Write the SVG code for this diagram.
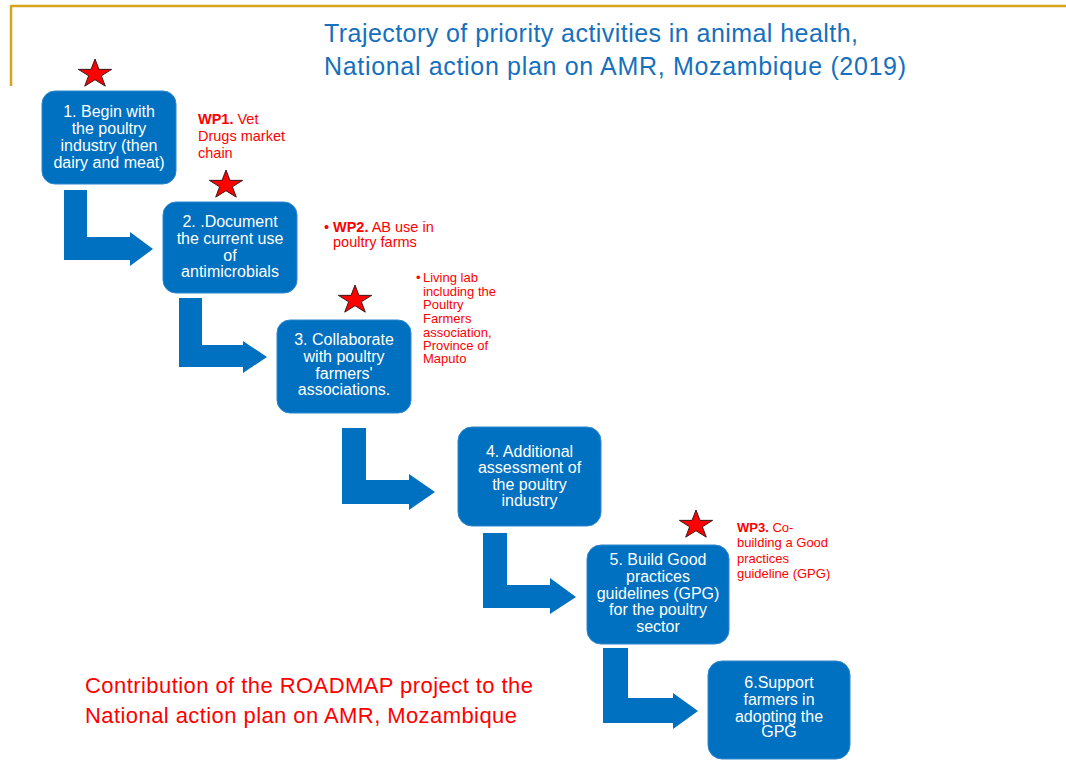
<svg xmlns="http://www.w3.org/2000/svg" width="1066" height="774" viewBox="0 0 1066 774">
<defs>
<style>
.box{fill:#0070C0;stroke:#2f86cc;stroke-width:1}
.bt{font-family:"Liberation Sans",Arial,sans-serif;font-size:16px;fill:#ffffff;text-anchor:middle}
.red{font-family:"Liberation Sans",Arial,sans-serif;fill:#FF0000}
.title{font-family:"Liberation Sans",Arial,sans-serif;font-size:25px;fill:#1570BE}
.arrow{fill:#0070C0}
.star{fill:#FF0000;stroke:#3a1a1a;stroke-width:1}
</style>
<polygon id="star" points="0,-15 3.93,-4.64 16.64,-4.64 6.36,1.77 10.29,12.14 0,5.73 -10.29,12.14 -6.36,1.77 -16.64,-4.64 -3.93,-4.64"/>
</defs>
<rect width="1066" height="774" fill="#ffffff"/>
<g id="frame" fill="none" stroke="#D4A41C" stroke-width="2.5">
<line x1="11" y1="6" x2="1066" y2="6"/>
<line x1="11" y1="5" x2="11" y2="86"/>
</g>
<g id="title" class="title">
<text x="324" y="42" textLength="534" lengthAdjust="spacing">Trajectory of priority activities in animal  health,</text>
<text x="324" y="75" textLength="582" lengthAdjust="spacing">National action plan on AMR,  Mozambique  (2019)</text>
</g>
<g id="connectors" class="arrow">
<polygon points="64,190 87,190 87,237 130,237 130,232 153,249 130,266 130,260 64,260"/>
<polygon points="179,298 202,298 202,345 243,345 243,341 267,357 243,373 243,367 179,367"/>
<polygon points="342,428 366,428 366,480 409,480 409,474 435,492 409,510 409,504 342,504"/>
<polygon points="483,533 507,533 507,585 550,585 550,578 576,597 550,614 550,608 483,608"/>
<polygon points="603,648 628,648 628,698 673,698 673,693 698,711 673,729 673,723 603,723"/>
</g>
<g id="stars" class="star">
<use href="#star" x="95" y="74"/>
<use href="#star" x="226" y="185"/>
<use href="#star" x="355" y="300"/>
<use href="#star" x="696" y="525"/>
</g>
<g id="node1">
<rect class="box" x="42" y="91" width="134" height="93" rx="13"/>
<text class="bt"><tspan x="109" y="117">1. Begin with</tspan><tspan x="109" y="134">the poultry</tspan><tspan x="109" y="151">industry (then</tspan><tspan x="109" y="168">dairy and meat)</tspan></text>
</g>
<g id="node2">
<rect class="box" x="163" y="202" width="134" height="91" rx="13"/>
<text class="bt"><tspan x="230" y="227">2. .Document</tspan><tspan x="230" y="244">the current use</tspan><tspan x="230" y="261">of</tspan><tspan x="230" y="277">antimicrobials</tspan></text>
</g>
<g id="node3">
<rect class="box" x="277" y="320" width="134" height="93" rx="13"/>
<text class="bt"><tspan x="344" y="345">3. Collaborate</tspan><tspan x="344" y="362">with poultry</tspan><tspan x="344" y="379">farmers'</tspan><tspan x="344" y="395">associations.</tspan></text>
</g>
<g id="node4">
<rect class="box" x="458" y="427" width="143" height="99" rx="14"/>
<text class="bt"><tspan x="529.5" y="457">4. Additional</tspan><tspan x="529.5" y="473">assessment of</tspan><tspan x="529.5" y="490">the poultry</tspan><tspan x="529.5" y="506">industry</tspan></text>
</g>
<g id="node5">
<rect class="box" x="587" y="545" width="142" height="99" rx="14"/>
<text class="bt"><tspan x="658" y="565">5. Build Good</tspan><tspan x="658" y="582">practices</tspan><tspan x="658" y="599">guidelines (GPG)</tspan><tspan x="658" y="615">for the poultry</tspan><tspan x="658" y="632">sector</tspan></text>
</g>
<g id="node6">
<rect class="box" x="708" y="661" width="142" height="98" rx="14"/>
<text class="bt"><tspan x="779" y="688">6.Support</tspan><tspan x="779" y="705">farmers in</tspan><tspan x="779" y="722">adopting the</tspan><tspan x="779" y="737">GPG</tspan></text>
</g>
<g id="wp1" class="red" font-size="14.5">
<text x="198" y="124"><tspan font-weight="bold">WP1.</tspan> Vet</text>
<text x="198" y="141">Drugs market</text>
<text x="198" y="158">chain</text>
</g>
<g id="wp2" class="red" font-size="14.5">
<text x="324" y="232">•<tspan x="333" font-weight="bold">WP2.</tspan> AB use in</text>
<text x="333" y="247">poultry farms</text>
</g>
<g id="livinglab" class="red" font-size="13">
<text x="416" y="282">•<tspan x="423">Living lab</tspan></text>
<text x="423" y="296">including the</text>
<text x="423" y="309">Poultry</text>
<text x="423" y="323">Farmers</text>
<text x="423" y="337">association,</text>
<text x="423" y="350">Province of</text>
<text x="423" y="363">Maputo</text>
</g>
<g id="wp3" class="red" font-size="13">
<text x="737" y="532"><tspan font-weight="bold">WP3.</tspan> Co-</text>
<text x="737" y="547">building a Good</text>
<text x="737" y="563">practices</text>
<text x="737" y="578">guideline (GPG)</text>
</g>
<g id="contribution" class="red" font-size="22">
<text x="85" y="693" textLength="448" lengthAdjust="spacing">Contribution of the ROADMAP project to the</text>
<text x="85" y="723" textLength="432" lengthAdjust="spacing">National action plan on AMR, Mozambique</text>
</g>
</svg>
